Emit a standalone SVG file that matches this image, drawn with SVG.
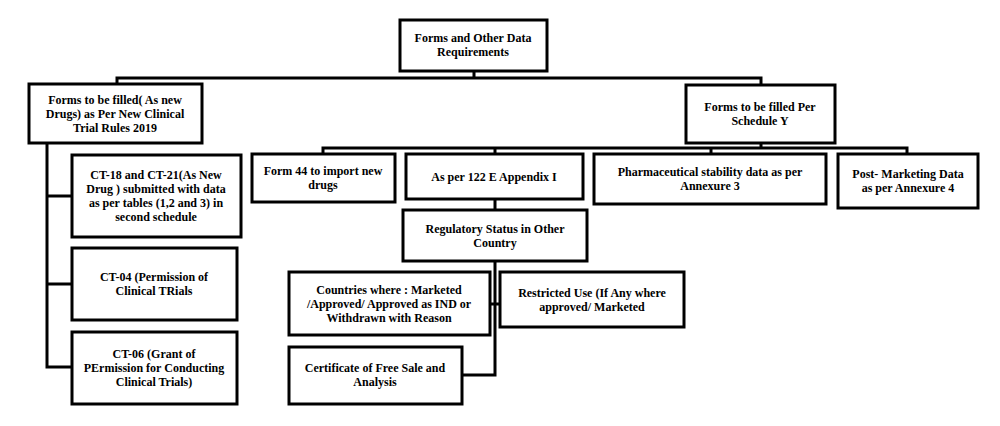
<svg xmlns="http://www.w3.org/2000/svg" width="1000" height="426" viewBox="0 0 1000 426">
<style>
rect{fill:#fff;stroke:#000;stroke-width:3}
text{font-family:"Liberation Serif",serif;font-weight:bold;font-size:12px;text-anchor:middle;fill:#000}
.c path{fill:none;stroke:#000;stroke-width:3}
</style>
<rect x="0" y="0" width="1000" height="426" style="stroke:none"/>
<g class="c">
<path d="M474 71V78M117 85V78H761V85"/>
<path d="M761 143V148M323 154V148H907V154M495 148V154M711 148V154"/>
<path d="M47 143V367H72M47 196H72M47 284H72"/>
<path d="M495 199V210M495 261V375H462M490 304H500"/>
</g>
<g id="root"><rect x="400" y="20" width="147" height="51"/><text x="473" y="42">Forms  and  Other Data</text><text x="473" y="56">Requirements</text></g>
<g id="left"><rect x="29" y="84" width="173" height="59"/><text x="115" y="104">Forms to be filled( As new</text><text x="115" y="118">Drugs) as Per New  Clinical</text><text x="115" y="132">Trial Rules 2019</text></g>
<g id="right"><rect x="686" y="85" width="149" height="58"/><text x="760" y="111">Forms to be filled Per</text><text x="760" y="125">Schedule Y</text></g>
<g id="ct18"><rect x="72" y="155" width="169" height="82"/><text x="156" y="179">CT-18 and CT-21(As New</text><text x="156" y="193">Drug ) submitted with data</text><text x="156" y="207">as per tables (1,2 and 3) in</text><text x="156" y="221">second schedule</text></g>
<g id="ct04"><rect x="72" y="248" width="165" height="72"/><text x="154" y="281">CT-04 (Permission of</text><text x="154" y="295">Clinical TRials</text></g>
<g id="ct06"><rect x="72" y="332" width="165" height="72"/><text x="154" y="358">CT-06 (Grant of</text><text x="154" y="372">PErmission for Conducting</text><text x="154" y="386">Clinical Trials)</text></g>
<g id="form44"><rect x="252" y="154" width="143" height="48"/><text x="323" y="175">Form  44 to import  new</text><text x="323" y="189">drugs</text></g>
<g id="app"><rect x="406" y="154" width="177" height="45"/><text x="494" y="181">As per 122 E  Appendix  I</text></g>
<g id="pharma"><rect x="594" y="154" width="232" height="50"/><text x="710" y="176">Pharmaceutical  stability data  as per</text><text x="710" y="190">Annexure  3</text></g>
<g id="post"><rect x="838" y="154" width="140" height="54"/><text x="908" y="178">Post- Marketing Data</text><text x="908" y="192">as per  Annexure  4</text></g>
<g id="reg"><rect x="403" y="210" width="184" height="51"/><text x="495" y="233">Regulatory  Status in Other</text><text x="495" y="247">Country</text></g>
<g id="countries"><rect x="289" y="272" width="201" height="63"/><text x="389" y="294">Countries where : Marketed</text><text x="389" y="308">/Approved/  Approved  as IND  or</text><text x="389" y="322">Withdrawn  with Reason</text></g>
<g id="restricted"><rect x="500" y="272" width="184" height="55"/><text x="592" y="297">Restricted Use (If Any where</text><text x="592" y="311">approved/  Marketed</text></g>
<g id="cert"><rect x="289" y="347" width="173" height="57"/><text x="375" y="372">Certificate of Free  Sale and</text><text x="375" y="386">Analysis</text></g>
</svg>
